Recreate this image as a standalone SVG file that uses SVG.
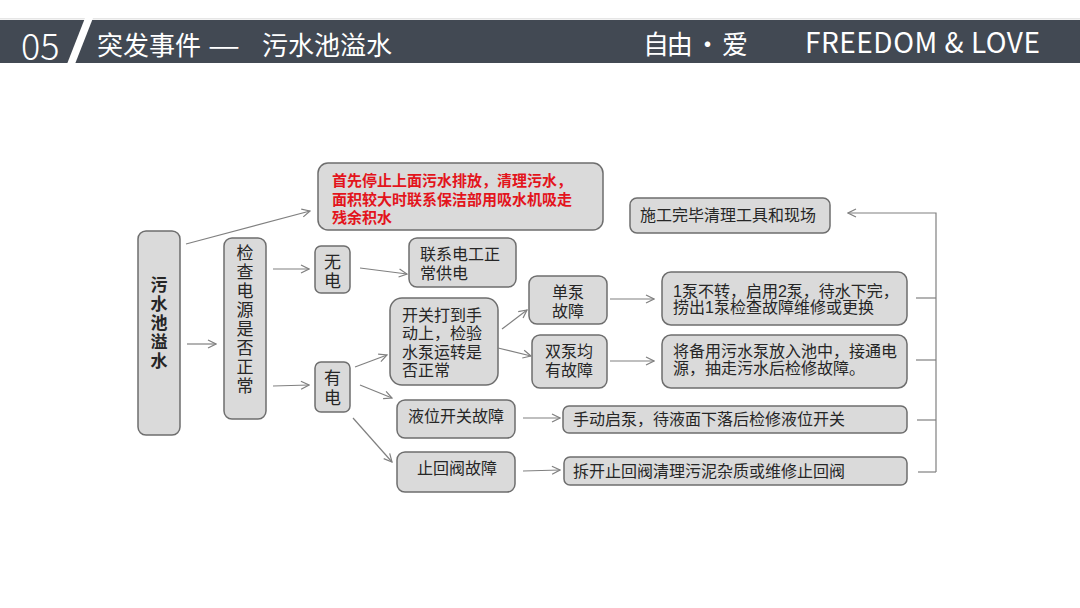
<svg xmlns="http://www.w3.org/2000/svg" width="1080" height="608" viewBox="0 0 1080 608">
<defs>
<marker id="ah" viewBox="0 0 10 10" refX="9" refY="5" markerWidth="10" markerHeight="10" markerUnits="userSpaceOnUse" orient="auto">
<path d="M1,1 L9,5 L1,9" fill="none" stroke="#808080" stroke-width="1.2"/>
</marker>
<style>
.box{fill:#dadada;stroke:#6e6e6e;stroke-width:1.5}
.t{font-family:"Liberation Sans","Noto Sans CJK SC",sans-serif;font-size:16px;fill:#262626}
.v{font-family:"Liberation Sans","Noto Sans CJK SC",sans-serif;font-size:17px;fill:#262626;text-anchor:middle}
.red{font-family:"Liberation Sans","Noto Sans CJK SC",sans-serif;font-size:15px;font-weight:bold;fill:#e3141c}
.c{fill:none;stroke:#808080;stroke-width:1.2;marker-end:url(#ah)}
.l{fill:none;stroke:#808080;stroke-width:1.2}
.h{font-family:"Noto Sans CJK SC","Open Sans",sans-serif;fill:#ffffff}
</style>
</defs>
<rect width="1080" height="608" fill="#ffffff"/>
<g id="header">
<rect x="0" y="18" width="1080" height="1.5" fill="#e6e6e6"/>
<rect x="0" y="20" width="1080" height="43" fill="#424953"/>
<polygon points="67,64 75,64 93,18 85,18" fill="#ffffff"/>
<text x="21" y="60" class="h" font-size="36" font-family="Open Sans" font-weight="300">05</text>
<text x="97" y="55" class="h" font-size="26">突发事件</text>
<text x="208" y="55" class="h" font-size="26" textLength="32" lengthAdjust="spacingAndGlyphs">—</text>
<text x="262" y="55" class="h" font-size="26">污水池溢水</text>
<text x="643" y="54" class="h" font-size="26" textLength="105" lengthAdjust="spacing">自由 · 爱</text>
<text x="805" y="53" class="h" font-size="28" font-family="Open Sans" textLength="235">FREEDOM &amp; LOVE</text>
</g>
<g id="n-root">
<rect class="box" x="138" y="231" width="42" height="204" rx="8"/>
<text class="v" font-weight="bold" font-size="16" x="159" y="291">污<tspan x="159" dy="19">水</tspan><tspan x="159" dy="19">池</tspan><tspan x="159" dy="19">溢</tspan><tspan x="159" dy="19">水</tspan></text>
</g>
<g id="n-check">
<rect class="box" x="224" y="238" width="42" height="181" rx="8"/>
<text class="v" x="245" y="259">检<tspan x="245" dy="19">查</tspan><tspan x="245" dy="19">电</tspan><tspan x="245" dy="19">源</tspan><tspan x="245" dy="19">是</tspan><tspan x="245" dy="19">否</tspan><tspan x="245" dy="19">正</tspan><tspan x="245" dy="19">常</tspan></text>
</g>
<g id="n-first">
<rect class="box" x="318" y="163" width="285" height="67" rx="10"/>
<text class="red" x="332" y="186">首先停止上面污水排放，清理污水，</text>
<text class="red" x="332" y="205">面积较大时联系保洁部用吸水机吸走</text>
<text class="red" x="332" y="223">残余积水</text>
</g>
<g id="n-nopower">
<rect class="box" x="315" y="246" width="35" height="47" rx="6"/>
<text class="v" x="332.5" y="268">无<tspan x="332.5" dy="19">电</tspan></text>
</g>
<g id="n-haspower">
<rect class="box" x="315" y="362" width="35" height="50" rx="6"/>
<text class="v" x="332.5" y="384">有<tspan x="332.5" dy="20">电</tspan></text>
</g>
<g id="n-electrician">
<rect class="box" x="409" y="238" width="107" height="49" rx="8"/>
<text class="t" font-size="17" x="420" y="260">联系电工正</text>
<text class="t" font-size="17" x="420" y="279">常供电</text>
</g>
<g id="n-cleanup">
<rect class="box" x="630" y="198" width="200" height="35" rx="7"/>
<text class="t" x="640" y="221">施工完毕清理工具和现场</text>
</g>
<g id="n-manual">
<rect class="box" x="390" y="298" width="108" height="87" rx="12"/>
<text class="t" x="402" y="321">开关打到手</text>
<text class="t" x="402" y="339">动上，检验</text>
<text class="t" x="402" y="358">水泵运转是</text>
<text class="t" x="402" y="376">否正常</text>
</g>
<g id="n-single">
<rect class="box" x="529" y="276" width="78" height="48" rx="8"/>
<text class="t" text-anchor="middle" x="568" y="298">单泵</text>
<text class="t" text-anchor="middle" x="568" y="317">故障</text>
</g>
<g id="n-double">
<rect class="box" x="532" y="335" width="75" height="53" rx="8"/>
<text class="t" text-anchor="middle" x="569" y="357">双泵均</text>
<text class="t" text-anchor="middle" x="569" y="376">有故障</text>
</g>
<g id="n-single-fix">
<rect class="box" x="662" y="272" width="245" height="53" rx="9"/>
<text class="t" font-size="15" x="673" y="297">1泵不转，启用2泵，待水下完，</text>
<text class="t" font-size="15" x="673" y="313">捞出1泵检查故障维修或更换</text>
</g>
<g id="n-double-fix">
<rect class="box" x="662" y="335" width="245" height="53" rx="9"/>
<text class="t" font-size="15" x="673" y="357">将备用污水泵放入池中，接通电</text>
<text class="t" font-size="15" x="673" y="374">源，抽走污水后检修故障。</text>
</g>
<g id="n-level">
<rect class="box" x="397" y="400" width="118" height="38" rx="8"/>
<text class="t" text-anchor="middle" x="456" y="422">液位开关故障</text>
</g>
<g id="n-check-valve">
<rect class="box" x="397" y="452" width="118" height="40" rx="8"/>
<text class="t" text-anchor="middle" x="457" y="474">止回阀故障</text>
</g>
<g id="n-level-fix">
<rect class="box" x="563" y="406" width="344" height="27" rx="6"/>
<text class="t" x="573" y="425">手动启泵，待液面下落后检修液位开关</text>
</g>
<g id="n-valve-fix">
<rect class="box" x="564" y="457" width="343" height="28" rx="6"/>
<text class="t" x="573" y="477">拆开止回阀清理污泥杂质或维修止回阀</text>
</g>
<g id="connectors">
<line class="c" x1="186" y1="244" x2="310" y2="211"/>
<line class="c" x1="187" y1="344" x2="216" y2="344"/>
<line class="c" x1="273" y1="269" x2="309" y2="269"/>
<line class="c" x1="273" y1="386" x2="309" y2="385"/>
<line class="c" x1="360" y1="268" x2="407" y2="274"/>
<line class="c" x1="355" y1="367" x2="387" y2="355"/>
<line class="c" x1="360" y1="385" x2="392" y2="398"/>
<line class="c" x1="353" y1="418" x2="392" y2="462"/>
<line class="c" x1="502" y1="329" x2="527" y2="310"/>
<line class="c" x1="498" y1="348" x2="531" y2="356"/>
<line class="c" x1="610" y1="299" x2="654" y2="299"/>
<line class="c" x1="610" y1="361" x2="654" y2="361"/>
<line class="c" x1="523" y1="418" x2="560" y2="418"/>
<line class="c" x1="523" y1="471" x2="560" y2="470"/>
<line class="l" x1="916" y1="298" x2="936" y2="298"/>
<line class="l" x1="916" y1="360" x2="936" y2="360"/>
<line class="l" x1="917" y1="420" x2="936" y2="420"/>
<line class="l" x1="918" y1="472" x2="936" y2="472"/>
<polyline class="c" points="936,472 936,213 848,213"/>
</g>
</svg>
